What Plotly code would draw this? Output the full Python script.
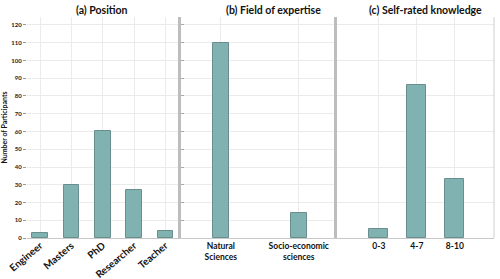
import plotly.graph_objects as go

pos_cats = ["Engineer", "Masters", "PhD", "Researcher", "Teacher"]
pos_vals = [3, 30, 60, 27, 4]
field_cats = ["Natural<br>Sciences", "Socio-economic<br>sciences"]
field_vals = [110, 14]
know_cats = ["0-3", "4-7", "8-10"]
know_vals = [5, 86, 33]
titles = ["(a) Position", "(b) Field of expertise", "(c) Self-rated knowledge"]

W, H = 500, 279
FILL = "#80b2b1"
EDGE = "#6a8e8e"
GRID = "#ebebeb"
SEP = "#bdbdbd"
FONT = "Lato"

def px(x):
    return x / W

def py(y):
    return (H - y) / H

fig = go.Figure()
fig.add_trace(go.Bar(x=list(range(len(pos_cats))), y=pos_vals, width=0.5,
                     marker=dict(color=FILL, line=dict(color=EDGE, width=1)),
                     xaxis="x", yaxis="y"))
fig.add_trace(go.Bar(x=list(range(len(field_cats))), y=field_vals, width=0.2,
                     marker=dict(color=FILL, line=dict(color=EDGE, width=1)),
                     xaxis="x2", yaxis="y2"))
fig.add_trace(go.Bar(x=list(range(len(know_cats))), y=know_vals, width=0.5,
                     marker=dict(color=FILL, line=dict(color=EDGE, width=1)),
                     xaxis="x3", yaxis="y3"))

ydom = [py(238), py(17)]
yr = [0, 124.5]
tickfont_y = dict(family=FONT, size=6, color="#222", weight="bold")
xfont = dict(family=FONT, size=8.5, color="#111", weight="bold")

common_x = dict(showline=True, linecolor="#c8c8c8", linewidth=1, ticks="",
                showgrid=True, gridcolor=GRID, gridwidth=1, zeroline=False,
                automargin=False)

fig.update_layout(
    width=W, height=H, margin=dict(l=0, r=0, t=0, b=0),
    paper_bgcolor="white", plot_bgcolor="white", showlegend=False,
    bargap=0,
    xaxis=dict(domain=[px(27), px(181)], range=[-0.42, 4.5],
               tickvals=list(range(len(pos_cats))), ticktext=pos_cats,
               tickangle=-40, anchor="y", ticklabelstandoff=-3,
               tickfont=dict(family=FONT, size=10, color="#111", weight="bold"),
               **common_x),
    yaxis=dict(domain=ydom, range=yr, dtick=10, showgrid=True, gridcolor=GRID,
               zeroline=False, ticks="outside", ticklen=3, tickcolor="#999",
               tickfont=tickfont_y, anchor="x", automargin=False,
               title=dict(text="Number of Participants", standoff=5,
                          font=dict(family=FONT, size=7, color="#111", weight="bold"))),
    xaxis2=dict(domain=[px(181), px(337)], range=[-0.51, 1.49],
                tickvals=list(range(len(field_cats))), ticktext=field_cats,
                tickangle=0, anchor="y2", tickfont=xfont, **common_x),
    yaxis2=dict(domain=ydom, range=yr, dtick=10, showgrid=True, gridcolor=GRID,
                zeroline=False, showticklabels=False, showline=True,
                linecolor=SEP, linewidth=2.5, ticks="inside",
                ticklen=3, tickcolor="#aaa", anchor="x2", automargin=False),
    xaxis3=dict(domain=[px(337), px(494)], range=[-1.1, 3.03],
                tickvals=list(range(len(know_cats))), ticktext=know_cats,
                tickangle=0, anchor="y3", tickfont=xfont, **common_x),
    yaxis3=dict(domain=ydom, range=yr, dtick=20, showgrid=True, gridcolor=GRID,
                zeroline=False, showticklabels=False, showline=True,
                linecolor=SEP, linewidth=2.5, ticks="", anchor="x3",
                automargin=False),
)

# thin right border of panel (c)
fig.add_shape(type="line", xref="paper", yref="paper",
              x0=px(494), x1=px(494), y0=ydom[0], y1=ydom[1],
              line=dict(color="#d0d0d0", width=1))

for cx, t in zip([102, 273, 425], titles):
    fig.add_annotation(text=t, x=px(cx), y=py(10), xref="paper", yref="paper",
                       showarrow=False, xanchor="center", yanchor="middle",
                       font=dict(family=FONT, size=10.5, color="#111", weight="bold"))

fig.write_html("out.html", config={"displayModeBar": False},
               post_script="document.body.style.margin='0';document.body.style.overflow='hidden';")
